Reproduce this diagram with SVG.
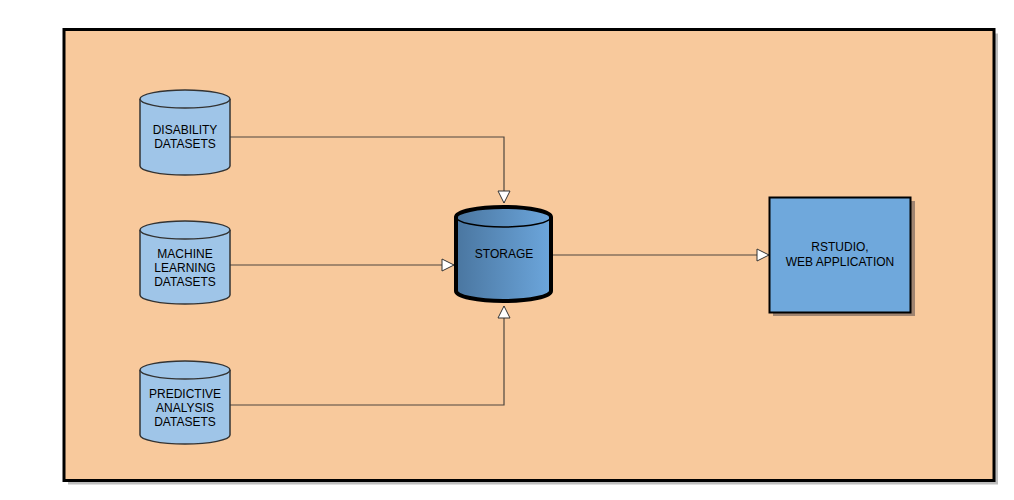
<svg xmlns="http://www.w3.org/2000/svg" width="1014" height="500" viewBox="0 0 1014 500">
<style>
.lbl{font-family:"Liberation Sans",Arial,sans-serif;font-size:12px;fill:#000;text-anchor:middle}
.cyl{fill:#9fc5e8;stroke:#333;stroke-width:1.5}
.conn{fill:none;stroke:#4f463e;stroke-width:1.2}
</style>
<defs>
<linearGradient id="sg" x1="0" y1="0" x2="1" y2="0">
<stop offset="0" stop-color="#4a76a0"/>
<stop offset="1" stop-color="#6ca6dc"/>
</linearGradient>
<marker id="ah" viewBox="0 0 14 14" refX="13" refY="7" markerWidth="14" markerHeight="14" markerUnits="userSpaceOnUse" orient="auto">
<path d="M1,1 L13,7 L1,13 Z" fill="#fff" stroke="#333" stroke-width="1"/>
</marker>
</defs>
<rect width="1014" height="500" fill="#fff"/>
<g id="frame">
<rect x="68" y="33.5" width="930" height="451" fill="#bdbdbd"/>
<rect x="64" y="29.5" width="930" height="451" fill="#f8c99c" stroke="#000" stroke-width="3"/>
</g>
<g id="connectors">
<path class="conn" d="M230,137 H504 V203" marker-end="url(#ah)"/>
<path class="conn" d="M230,265 H454" marker-end="url(#ah)"/>
<path class="conn" d="M230,405 H504 V306" marker-end="url(#ah)"/>
<path class="conn" d="M552,255 H769" marker-end="url(#ah)"/>
</g>
<g id="disability">
<path class="cyl" d="M140,99 A45,9 0 0 1 230,99 V166 A45,9 0 0 1 140,166 Z"/>
<path class="cyl" d="M140,99 A45,9 0 0 0 230,99" fill="none"/>
<text class="lbl" x="185" y="134">DISABILITY</text>
<text class="lbl" x="185" y="148">DATASETS</text>
</g>
<g id="ml">
<path class="cyl" d="M140,230 A45,9 0 0 1 230,230 V295 A45,9 0 0 1 140,295 Z"/>
<path class="cyl" d="M140,230 A45,9 0 0 0 230,230" fill="none"/>
<text class="lbl" x="185" y="258">MACHINE</text>
<text class="lbl" x="185" y="272">LEARNING</text>
<text class="lbl" x="185" y="286">DATASETS</text>
</g>
<g id="predictive">
<path class="cyl" d="M140,370 A45,9 0 0 1 230,370 V435 A45,9 0 0 1 140,435 Z"/>
<path class="cyl" d="M140,370 A45,9 0 0 0 230,370" fill="none"/>
<text class="lbl" x="185" y="398">PREDICTIVE</text>
<text class="lbl" x="185" y="412">ANALYSIS</text>
<text class="lbl" x="185" y="426">DATASETS</text>
</g>
<g id="storage">
<path d="M456,217 A47.5,10 0 0 1 551,217 V291 A47.5,10 0 0 1 456,291 Z" fill="url(#sg)" stroke="#000" stroke-width="4"/>
<path d="M456,217 A47.5,10 0 0 0 551,217" fill="none" stroke="#000" stroke-width="1.5"/>
<text class="lbl" x="504" y="258">STORAGE</text>
</g>
<g id="rstudio">
<rect x="773" y="201" width="142" height="115" fill="#a08470"/>
<rect x="769.5" y="197.5" width="141" height="115" fill="#6fa8dc" stroke="#000" stroke-width="2"/>
<text class="lbl" x="840" y="251">RSTUDIO,</text>
<text class="lbl" x="840" y="266">WEB APPLICATION</text>
</g>
</svg>
